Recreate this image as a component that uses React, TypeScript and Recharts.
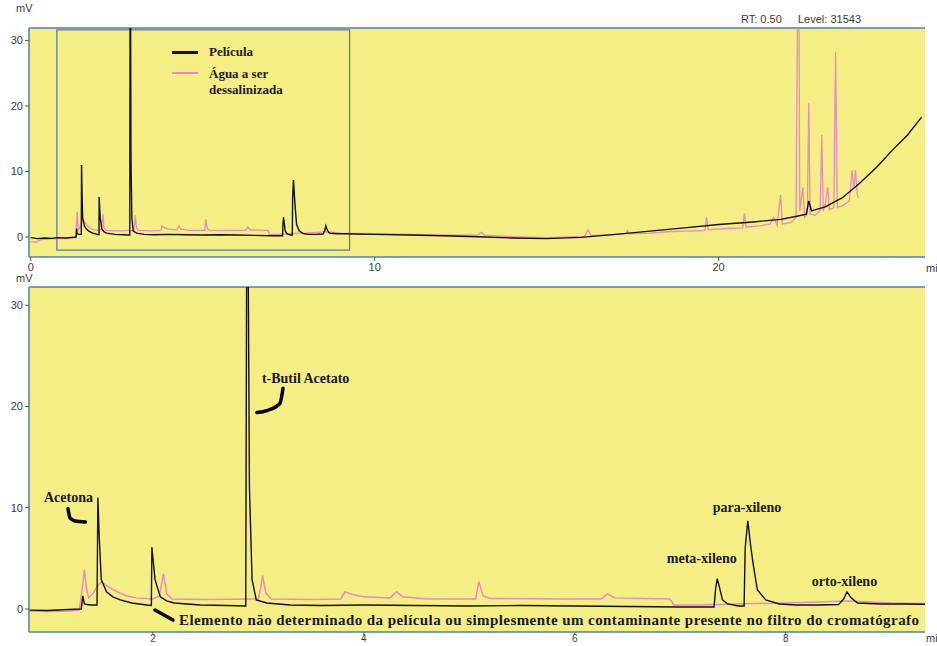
import React from 'react';
import {
  LineChart,
  Line,
  XAxis,
  YAxis,
  CartesianGrid,
  ReferenceArea,
  ReferenceLine,
  ReferenceDot,
  Legend,
} from 'recharts';

// retention time (min), signal (mV)
const peliculaPoints: [number, number][] = [
  [0, -0.1], [0.2, -0.25], [0.4, -0.15], [0.6, -0.2], [0.8, -0.1], [1.0, -0.15], [1.2, -0.05],
  [1.32, 0.0], [1.335, 1.3], [1.35, 0.5], [1.4, 0.4], [1.47, 0.4],
  [1.478, 11.0], [1.49, 7.3], [1.51, 2.9], [1.56, 1.7], [1.62, 1.2], [1.69, 0.9], [1.8, 0.6], [1.94, 0.4],
  [1.985, 0.35], [1.99, 6.1], [2.02, 2.9], [2.07, 1.2], [2.13, 0.8], [2.2, 0.6], [2.45, 0.4], [2.7, 0.35],
  [2.88, 0.3], [2.89, 40], [2.9, 40], [2.915, 12], [2.94, 2.9], [2.98, 0.9], [3.08, 0.6], [3.3, 0.4],
  [3.6, 0.35], [4.0, 0.4], [4.5, 0.35], [5.0, 0.3], [5.5, 0.35], [6.0, 0.3], [6.5, 0.25], [7.0, 0.2],
  [7.32, 0.2], [7.335, 2.0], [7.35, 3.0], [7.37, 2.2], [7.4, 0.9], [7.45, 0.5], [7.55, 0.3],
  [7.605, 0.3], [7.615, 6.0], [7.64, 8.7], [7.67, 6.0], [7.69, 4.5], [7.73, 1.9], [7.81, 0.9], [7.94, 0.5],
  [8.1, 0.4], [8.3, 0.4], [8.5, 0.45], [8.55, 1.0], [8.58, 1.7], [8.62, 1.1], [8.68, 0.6], [8.9, 0.5],
  [9.1, 0.5], [9.4, 0.45], [10, 0.4], [11, 0.3], [12, 0.2], [13, 0.05], [14, -0.15], [15, -0.25],
  [16, -0.05], [17, 0.4], [18, 0.9], [19, 1.4], [20, 1.9], [21, 2.3], [21.8, 2.7], [22.2, 3.1],
  [22.55, 3.5], [22.62, 5.5], [22.7, 4.0], [23.1, 4.6], [23.6, 6.0], [24.1, 8.2], [24.6, 10.7],
  [25.06, 13.3], [25.5, 15.6], [25.9, 18.3],
];

const aguaPoints: [number, number][] = [
  [0, -0.7], [0.15, -0.8], [0.3, -0.4], [0.5, -0.3], [0.8, -0.2], [1.0, -0.25], [1.2, -0.2],
  [1.3, -0.1], [1.33, 2.0], [1.35, 3.9], [1.37, 2.0], [1.39, 1.1], [1.43, 1.5], [1.47, 2.2], [1.51, 2.7],
  [1.56, 2.3], [1.66, 1.7], [1.75, 1.3], [1.84, 1.1], [2.0, 1.0], [2.06, 1.3], [2.1, 3.5], [2.13, 1.5],
  [2.18, 1.0], [2.5, 0.95], [3.0, 1.0], [3.02, 2.0], [3.04, 3.3], [3.07, 1.6], [3.12, 1.0], [3.5, 0.95],
  [3.78, 1.0], [3.82, 1.7], [3.9, 1.4], [4.0, 1.2], [4.25, 1.1], [4.31, 1.7], [4.37, 1.2], [4.6, 1.0],
  [5.06, 1.0], [5.09, 2.7], [5.13, 1.3], [5.2, 1.05], [5.8, 1.0], [6.25, 1.0], [6.31, 1.5], [6.38, 1.1],
  [6.9, 1.0], [6.94, 0.4], [7.2, 0.4], [7.5, 0.5], [8.0, 0.6], [8.3, 0.7], [8.6, 0.8], [9.0, 0.6],
  [9.3, 0.55], [10, 0.5], [11, 0.4], [12, 0.3], [13.0, 0.3], [13.1, 0.7], [13.2, 0.3], [14, 0.05],
  [15, -0.1], [16.1, 0.1], [16.2, 1.1], [16.3, 0.2], [17, 0.4], [17.3, 0.5], [17.35, 1.0], [17.4, 0.5],
  [18, 0.6], [18.5, 0.8], [19, 0.9], [19.6, 1.0], [19.65, 3.0], [19.7, 1.1], [20.2, 1.3], [20.7, 1.4],
  [20.75, 3.6], [20.8, 1.5], [21.2, 1.7], [21.5, 2.0], [21.6, 3.0], [21.7, 1.8], [21.8, 6.4], [21.85, 2.0],
  [22.1, 2.2], [22.25, 3.0], [22.3, 40], [22.33, 40], [22.36, 4.0], [22.45, 7.6], [22.5, 3.0],
  [22.58, 3.5], [22.62, 20.4], [22.66, 3.5], [22.8, 3.3], [22.95, 4.0], [23.0, 15.6], [23.04, 4.0],
  [23.1, 5.0], [23.17, 7.6], [23.22, 4.2], [23.35, 4.5], [23.4, 28.2], [23.45, 4.5], [23.6, 4.8],
  [23.8, 5.5], [23.88, 10.2], [23.93, 7.5], [23.98, 10.2], [24.03, 6.5], [24.06, 6.0],
];

const topTicksX = [0, 10, 20];
const zoomTicksX = [2, 4, 6, 8];
const ticksY = [0, 10, 20, 30];

// annotations on the zoomed panel
const peakLabels = [
  { text: 'Acetona', t: 0.967, mv: 11.06 },
  { text: 't-Butil Acetato', t: 3.033, mv: 22.8 },
  { text: 'meta-xileno', t: 6.872, mv: 5.03 },
  { text: 'para-xileno', t: 7.308, mv: 10.07 },
  { text: 'orto-xileno', t: 8.247, mv: 2.76 },
];
const noteText =
  'Elemento não determinado da película ou simplesmente um contaminante presente no filtro do cromatógrafo';
const notePos = { t: 2.247, mv: -1.09 };

const curlMarks: [number, number][][] = [
  [[1.195, 9.9], [1.214, 9.0], [1.26, 8.7], [1.36, 8.6]],
  [[2.986, 19.4], [3.081, 19.6], [3.204, 20.3], [3.233, 21.8]],
  [[2.019, -0.1], [2.19, -1.09]],
];

const toRows = (pts: [number, number][]) => pts.map(([t, mv]) => ({ t, mv }));
const pelicula = toRows(peliculaPoints);
const agua = toRows(aguaPoints);

const YELLOW = '#f5ee84';
const FRAME = '#4f80aa';
const BLACK = '#121212';
const PINK = '#e48cc4';
const SERIF = '"Liberation Serif", "Times New Roman", serif';
const SANS = '"Liberation Sans", Arial, sans-serif';

const tickStyle = { fontSize: 11, fill: '#3a3a3a', fontFamily: SANS };

const LegendBox = () => (
  <div style={{ fontFamily: SERIF, fontWeight: 'bold', fontSize: 13, color: '#1a1a1a', lineHeight: '16px' }}>
    <div style={{ display: 'flex', alignItems: 'center', marginBottom: 6 }}>
      <span style={{ width: 26, height: 3, background: BLACK, marginRight: 11 }} />
      <span>Película</span>
    </div>
    <div style={{ display: 'flex', alignItems: 'flex-start' }}>
      <span style={{ width: 26, height: 2, background: PINK, marginRight: 11, marginTop: 6 }} />
      <span>
        Água a ser
        <br />
        dessalinizada
      </span>
    </div>
  </div>
);

const smallText: React.CSSProperties = {
  position: 'absolute',
  fontFamily: SANS,
  fontSize: 11,
  color: '#3a3a3a',
  whiteSpace: 'nowrap',
};

const boldLabel = (text: string, width?: number) => (p: any) => (
  <text
    x={p.viewBox.x}
    y={p.viewBox.y}
    dominantBaseline="central"
    fontFamily={SERIF}
    fontWeight="bold"
    fontSize={width ? 15 : 14}
    fill="#1a1a1a"
    textLength={width}
    lengthAdjust={width ? 'spacing' : undefined}
  >
    {text}
  </text>
);

export default function App() {
  return (
    <div style={{ position: 'absolute', left: 0, top: 0, width: 937, height: 646, background: '#fff', overflow: 'hidden' }}>
      <div style={{ position: 'absolute', left: 0, top: 0 }}>
        <LineChart width={937} height={280} margin={{ top: 28, right: 12, bottom: 3, left: 0 }}>
          <CartesianGrid fill={YELLOW} horizontal={false} vertical={false} />
          <XAxis
            dataKey="t"
            type="number"
            domain={[-0.05, 26]}
            ticks={topTicksX}
            allowDataOverflow
            height={20}
            tickSize={4}
            tick={tickStyle}
            axisLine={{ stroke: FRAME, strokeWidth: 1.5 }}
            tickLine={{ stroke: '#555' }}
          />
          <YAxis
            dataKey="mv"
            type="number"
            domain={[-3.05, 31.9]}
            ticks={ticksY}
            allowDataOverflow
            width={29}
            tickSize={4}
            tick={tickStyle}
            axisLine={{ stroke: FRAME, strokeWidth: 1.5 }}
            tickLine={{ stroke: '#555' }}
          />
          <ReferenceLine y={31.9} stroke={FRAME} strokeWidth={1.5} />
          <ReferenceArea x1={0.76} x2={9.27} y1={-2.0} y2={31.6} fill="none" fillOpacity={0} stroke={FRAME} strokeWidth={1.3} />
          <Line data={agua} dataKey="mv" type="linear" stroke={PINK} strokeWidth={1.3} dot={false} isAnimationActive={false} />
          <Line data={pelicula} dataKey="mv" type="linear" stroke={BLACK} strokeWidth={1.4} dot={false} isAnimationActive={false} />
          <Legend
            layout="vertical"
            align="center"
            verticalAlign="middle"
            content={() => <LegendBox />}
            wrapperStyle={{ left: 172, top: 44, width: 170, right: 'auto', bottom: 'auto' }}
          />
        </LineChart>
      </div>

      <div style={{ position: 'absolute', left: 0, top: 280 }}>
        <LineChart width={937} height={366} margin={{ top: 7, right: 12, bottom: 0, left: 0 }}>
          <CartesianGrid fill={YELLOW} horizontal={false} vertical={false} />
          <XAxis
            dataKey="t"
            type="number"
            domain={[0.825, 9.32]}
            ticks={zoomTicksX}
            allowDataOverflow
            height={14}
            tickSize={3}
            tickMargin={0}
            tick={{ ...tickStyle, fontSize: 10 }}
            axisLine={{ stroke: FRAME, strokeWidth: 1.5 }}
            tickLine={{ stroke: '#555' }}
          />
          <YAxis
            dataKey="mv"
            type="number"
            domain={[-2.27, 31.8]}
            ticks={ticksY}
            allowDataOverflow
            width={29}
            tickSize={4}
            tick={tickStyle}
            axisLine={{ stroke: FRAME, strokeWidth: 1.5 }}
            tickLine={{ stroke: '#555' }}
          />
          <ReferenceLine y={31.8} stroke={FRAME} strokeWidth={1.5} />
          <Line data={agua} dataKey="mv" type="linear" stroke={PINK} strokeWidth={1.5} dot={false} isAnimationActive={false} />
          <Line data={pelicula} dataKey="mv" type="linear" stroke={BLACK} strokeWidth={1.4} dot={false} isAnimationActive={false} />
          {curlMarks.map((c, i) => (
            <Line
              key={'curl' + i}
              data={toRows(c)}
              dataKey="mv"
              type="monotone"
              stroke="#000"
              strokeWidth={3.5}
              strokeLinecap="round"
              dot={false}
              isAnimationActive={false}
            />
          ))}
          {peakLabels.map((l) => (
            <ReferenceDot key={l.text} x={l.t} y={l.mv} r={0} fill="none" stroke="none" label={boldLabel(l.text)} />
          ))}
          <ReferenceDot x={notePos.t} y={notePos.mv} r={0} fill="none" stroke="none" label={boldLabel(noteText, 740)} />
        </LineChart>
      </div>

      <div style={{ ...smallText, left: 16, top: 2 }}>mV</div>
      <div style={{ ...smallText, left: 16, top: 272 }}>mV</div>
      <div style={{ ...smallText, left: 926, top: 262 }}>mi</div>
      <div style={{ ...smallText, left: 926, top: 632 }}>mi</div>
      <div style={{ ...smallText, left: 741, top: 13 }}>RT: 0.50</div>
      <div style={{ ...smallText, left: 798, top: 13 }}>Level: 31543</div>
    </div>
  );
}
